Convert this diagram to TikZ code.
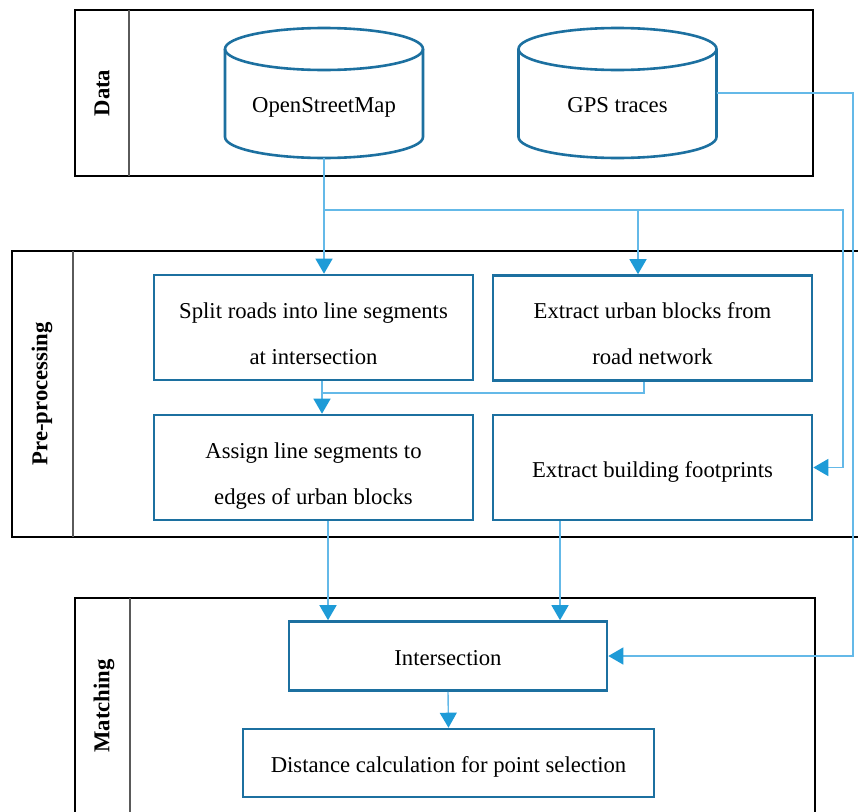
\documentclass[tikz,border=0pt]{standalone}
\usepackage{fontspec}
\setmainfont{Liberation Serif}
\usetikzlibrary{arrows.meta,calc}
\definecolor{boxblue}{RGB}{28,112,160}
\definecolor{linkblue}{RGB}{100,185,232}
\definecolor{arrowblue}{RGB}{30,155,215}
\definecolor{divgray}{RGB}{90,90,90}
\newcommand{\twolines}[2]{\rule{0pt}{32pt}#1\\#2\rule[-5pt]{0pt}{5pt}}
\begin{document}
\begin{tikzpicture}[x=1pt,y=1pt,
  txt/.style={font=\fontsize{22.7}{46}\selectfont},
  procbox/.style={draw=boxblue,line width=2.6pt,minimum width=319pt,minimum height=105pt,inner sep=0pt,align=center,txt},
  oneline/.style={text height=24pt,text depth=5pt},
  cyl/.style={minimum width=198pt,minimum height=130pt,inner sep=0pt,outer sep=0pt,text height=40pt,text depth=2pt,txt},
  boxline/.style={draw=boxblue,line width=2.6pt},
  frame/.style={draw=black,line width=2.6pt},
  divider/.style={draw=divgray,line width=1.3pt},
  lane/.style={rotate=90,font=\fontsize{22.7}{27}\selectfont\bfseries},
  link/.style={draw=linkblue,line width=1.4pt},
  flow/.style={link,-{Triangle[width=17pt,length=15pt,color=arrowblue]}},
]
\fill[white] (0,0) rectangle (858,-811);
\clip (0,0) rectangle (858,-811);
% frames
\draw[frame] (75,-10) rectangle (813,-176);
\draw[divider] (129,-10) -- (129,-176);
\node[lane] (datalabel) at (102,-93) {Data};
\draw[frame] (12,-251) rectangle (875,-537);
\draw[divider] (73,-251) -- (73,-537);
\node[lane] (prelabel) at (42,-394) {Pre-processing};
\draw[frame] (75,-598) rectangle (815,-830);
\draw[divider] (130,-598) -- (130,-830);
\node[lane] (matchlabel) at (104,-706) {Matching};
% data sources
\node[cyl] (osm) at (324,-93) {OpenStreetMap};
\node[cyl] (gps) at (617.5,-93) {GPS traces};
\foreach \c in {osm,gps}{
  \draw[boxline] ([yshift=-21pt]\c.north) ellipse [x radius=99pt, y radius=21pt];
  \draw[boxline] ([yshift=-21pt]\c.north west) -- ([yshift=21pt]\c.south west)
    arc[start angle=180,end angle=360,x radius=99pt,y radius=21pt]
    -- ([yshift=-21pt]\c.north east);
}
% process boxes
\node[procbox] (split) at (313.5,-327.5) {\twolines{Split roads into line segments}{at intersection}};
\node[procbox] (urban) at (652.5,-328) {\twolines{Extract urban blocks from}{road network}};
\node[procbox] (assign) at (313.5,-467.5) {\twolines{Assign line segments to}{edges of urban blocks}};
\node[procbox,oneline] (build) at (652.5,-467.5) {Extract building footprints};
\node[procbox,oneline,minimum width=318pt,minimum height=69pt] (inter) at (448,-656) {Intersection};
\node[procbox,oneline,minimum width=411pt,minimum height=68pt] (dist) at (448.5,-763) {Distance calculation for point selection};
% connector coordinates
\coordinate (sx) at (322,-393);
\coordinate (bx) at (843,-210);
\coordinate (ux) at (638,-210);
\coordinate (gx) at (853,-93);
\coordinate (mx) at (644,-393);
\coordinate (ax) at (328,-600);
\coordinate (fx) at (560,-600);
% connectors
\draw[flow] (osm.south) -- (osm.south |- split.north);
\draw[flow] (osm.south |- bx) -- (bx) |- (build.east);
\draw[flow] (ux) -- (ux |- urban.north);
\draw[flow] (gps.east) -- (gx) |- (inter.east);
\draw[link] (urban.south -| mx) -- (mx) -- (mx -| sx);
\draw[flow] (split.south -| sx) -- (assign.north -| sx);
\draw[flow] (assign.south -| ax) -- (inter.north -| ax);
\draw[flow] (build.south -| fx) -- (inter.north -| fx);
\draw[flow] (inter.south) -- (dist.north);
\end{tikzpicture}
\end{document}
